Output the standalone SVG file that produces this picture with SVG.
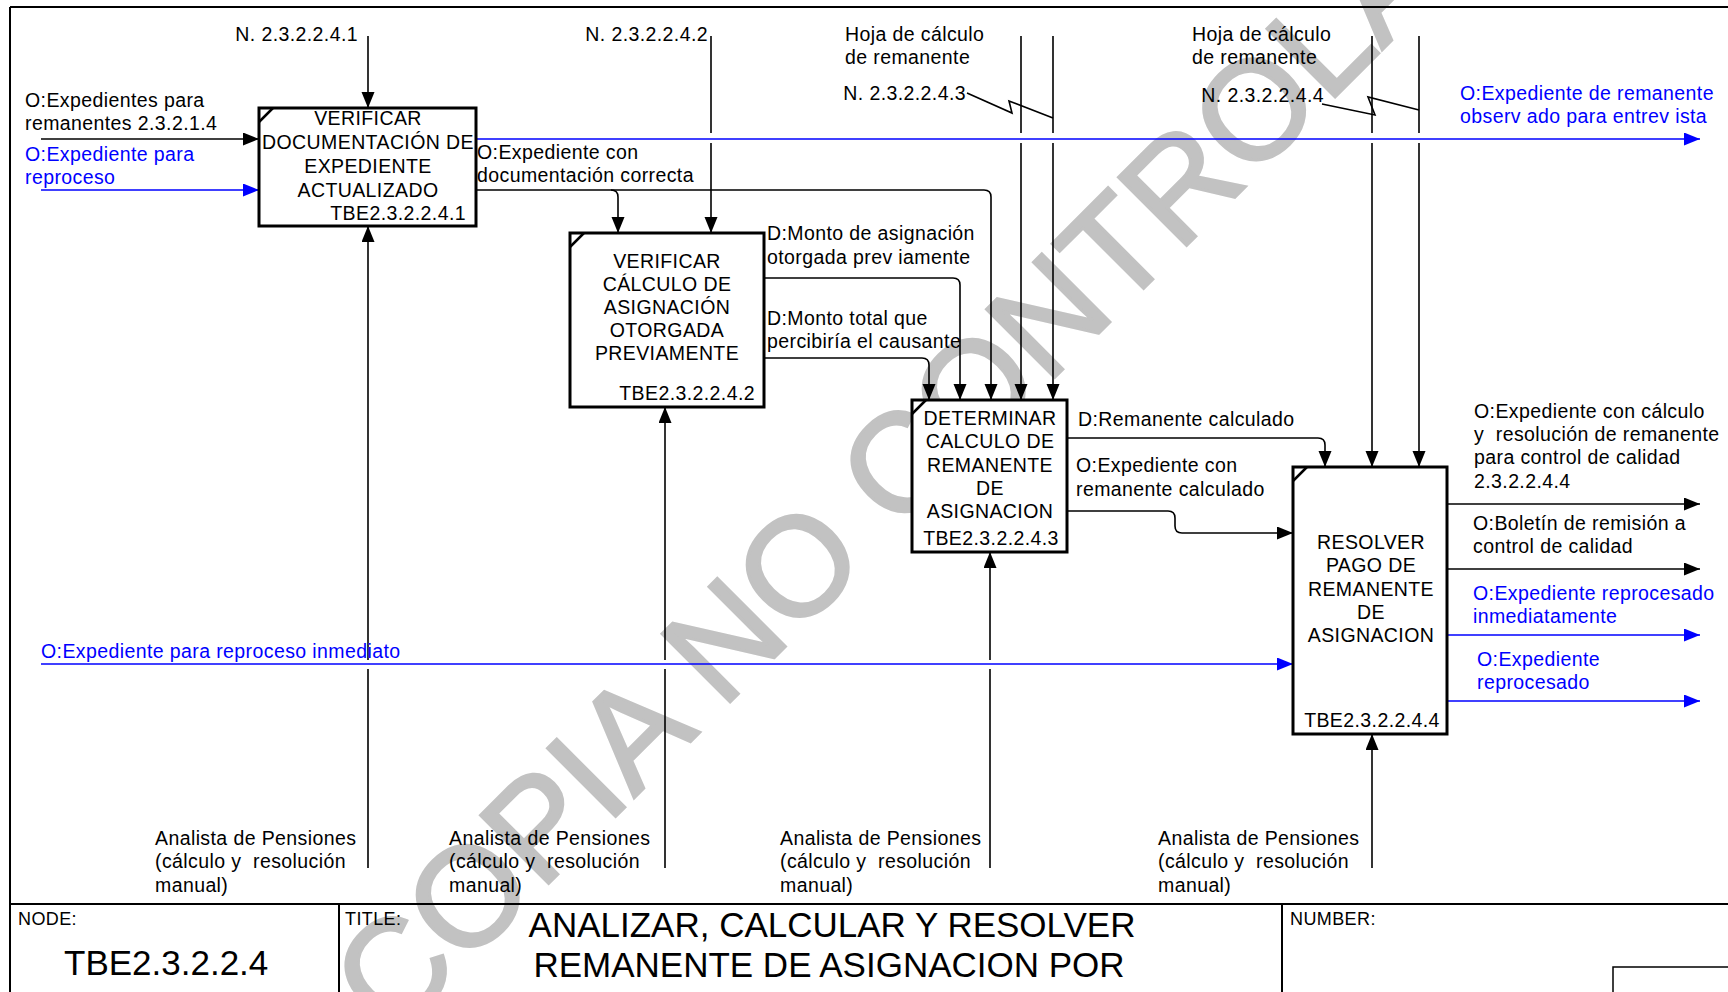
<svg xmlns="http://www.w3.org/2000/svg" width="1728" height="992" viewBox="0 0 1728 992">
<defs>
<marker id="ab" markerUnits="userSpaceOnUse" markerWidth="17" markerHeight="14" refX="16" refY="6.5" orient="auto"><path d="M0,0 L16,6.5 L0,13 z" fill="#000"/></marker>
<marker id="au" markerUnits="userSpaceOnUse" markerWidth="17" markerHeight="14" refX="16" refY="6.5" orient="auto"><path d="M0,0 L16,6.5 L0,13 z" fill="#0000ff"/></marker>
</defs>
<style>
text{font-family:"Liberation Sans",Arial,sans-serif;font-size:19.5px;letter-spacing:0.4px;fill:#000}
.b{fill:#0000ff}
.c{text-anchor:middle}
.e{text-anchor:end}
.p{white-space:pre}
.box{fill:#fff;stroke:#000;stroke-width:3}
.crn{fill:none;stroke:#000;stroke-width:2.5}
.ln{fill:none;stroke:#000;stroke-width:1.6}
.lb{fill:none;stroke:#0000ff;stroke-width:1.6}
.fr{fill:none;stroke:#000;stroke-width:2}
.wm{font-size:140px;fill:#c2c2c2;stroke:#c2c2c2;stroke-width:3;letter-spacing:0}
.big{font-size:35px;letter-spacing:0}
</style>
<rect width="1728" height="992" fill="#fff"/>
<text class="wm" transform="translate(392,1040) rotate(-45)">COPIA NO CONTROLADA</text>
<g id="frame">
<path class="fr" d="M10,7 H1728 M10,7 V992 M10,904 H1728 M339,904 V992 M1282,904 V992"/>
<rect x="1613" y="967" width="200" height="60" fill="none" stroke="#000" stroke-width="1.5"/>
<text x="18" y="925" style="font-size:18px">NODE:</text>
<text x="345" y="925" style="font-size:18px">TITLE:</text>
<text x="1290" y="925" style="font-size:18px">NUMBER:</text>
<text class="big" x="64" y="975">TBE2.3.2.2.4</text>
<text class="big c" x="832" y="937">ANALIZAR, CALCULAR Y RESOLVER</text>
<text class="big c" x="829" y="977">REMANENTE DE ASIGNACION POR</text>
<text class="big c" x="830" y="1017">SOBREVIVENCIA</text>
</g>
<g id="connectors">
<path class="ln" d="M368,36 V108" marker-end="url(#ab)"/>
<path class="ln" d="M41,139 H259" marker-end="url(#ab)"/>
<path class="lb" d="M41,190 H259" marker-end="url(#au)"/>
<path class="lb" d="M476,139 H1700" marker-end="url(#au)"/>
<path class="ln" d="M476,190 H984 Q991,190 991,197 V400" marker-end="url(#ab)"/>
<path class="ln" d="M611,190 Q618,190 618,197 V233" marker-end="url(#ab)"/>
<path class="ln" d="M711,36 V133"/>
<path class="ln" d="M711,143 V233" marker-end="url(#ab)"/>
<path class="ln" d="M764,278 H953 Q960,278 960,285 V400" marker-end="url(#ab)"/>
<path class="ln" d="M764,358 H922 Q929,358 929,365 V400" marker-end="url(#ab)"/>
<path class="ln" d="M1021,36 V133 M1053,36 V133"/>
<path class="ln" d="M1021,143 V400" marker-end="url(#ab)"/>
<path class="ln" d="M1053,143 V400" marker-end="url(#ab)"/>
<path class="ln" d="M967,93 L1012,113 L1009,101 L1053,118"/>
<path class="ln" d="M1372,36 V133 M1419,36 V133"/>
<path class="ln" d="M1372,143 V467" marker-end="url(#ab)"/>
<path class="ln" d="M1419,143 V467" marker-end="url(#ab)"/>
<path class="ln" d="M1322,104 L1375,115 L1368,97 L1419,110"/>
<path class="ln" d="M1067,438 H1318 Q1325,438 1325,445 V467" marker-end="url(#ab)"/>
<path class="ln" d="M1067,511 H1168 Q1175,511 1175,518 V526 Q1175,533 1182,533 H1293" marker-end="url(#ab)"/>
<path class="lb" d="M41,664 H1293" marker-end="url(#au)"/>
<path class="ln" d="M368,868 V669 M665,868 V669 M990,868 V669"/>
<path class="ln" d="M368,660 V226" marker-end="url(#ab)"/>
<path class="ln" d="M665,660 V407" marker-end="url(#ab)"/>
<path class="ln" d="M990,660 V552" marker-end="url(#ab)"/>
<path class="ln" d="M1372,868 V734" marker-end="url(#ab)"/>
<path class="ln" d="M1447,504 H1700" marker-end="url(#ab)"/>
<path class="ln" d="M1447,569 H1700" marker-end="url(#ab)"/>
<path class="lb" d="M1447,635 H1700" marker-end="url(#au)"/>
<path class="lb" d="M1447,701 H1700" marker-end="url(#au)"/>
</g>
<g id="labels">
<text class="e" x="358" y="41">N. 2.3.2.2.4.1</text>
<text class="e" x="708" y="41">N. 2.3.2.2.4.2</text>
<text x="845" y="41">Hoja de cálculo</text>
<text x="845" y="64">de remanente</text>
<text class="e" x="966" y="100">N. 2.3.2.2.4.3</text>
<text x="1192" y="41">Hoja de cálculo</text>
<text x="1192" y="64">de remanente</text>
<text class="e" x="1324" y="102">N. 2.3.2.2.4.4</text>
<text class="b" x="1460" y="100">O:Expediente de remanente</text>
<text class="b" x="1460" y="123">observ ado para entrev ista</text>
<text x="25" y="107">O:Expedientes para</text>
<text x="25" y="130">remanentes 2.3.2.1.4</text>
<text class="b" x="25" y="161">O:Expediente para</text>
<text class="b" x="25" y="184">reproceso</text>
<text x="477" y="159">O:Expediente con</text>
<text x="477" y="182">documentación correcta</text>
<text x="767" y="240">D:Monto de asignación</text>
<text x="767" y="264">otorgada prev iamente</text>
<text x="767" y="325">D:Monto total que</text>
<text x="767" y="348">percibiría el causante</text>
<text x="1078" y="426">D:Remanente calculado</text>
<text x="1076" y="472">O:Expediente con</text>
<text x="1076" y="496">remanente calculado</text>
<text x="1474" y="418">O:Expediente con cálculo</text>
<text class="p" x="1474" y="441">y  resolución de remanente</text>
<text x="1474" y="464">para control de calidad</text>
<text x="1474" y="488">2.3.2.2.4.4</text>
<text x="1473" y="530">O:Boletín de remisión a</text>
<text x="1473" y="553">control de calidad</text>
<text class="b" x="1473" y="600">O:Expediente reprocesado</text>
<text class="b" x="1473" y="623">inmediatamente</text>
<text class="b" x="1477" y="666">O:Expediente</text>
<text class="b" x="1477" y="689">reprocesado</text>
<text class="b" x="41" y="658">O:Expediente para reproceso inmediato</text>
<text x="155" y="845">Analista de Pensiones</text>
<text class="p" x="155" y="868">(cálculo y  resolución</text>
<text x="155" y="892">manual)</text>
<text x="449" y="845">Analista de Pensiones</text>
<text class="p" x="449" y="868">(cálculo y  resolución</text>
<text x="449" y="892">manual)</text>
<text x="780" y="845">Analista de Pensiones</text>
<text class="p" x="780" y="868">(cálculo y  resolución</text>
<text x="780" y="892">manual)</text>
<text x="1158" y="845">Analista de Pensiones</text>
<text class="p" x="1158" y="868">(cálculo y  resolución</text>
<text x="1158" y="892">manual)</text>
</g>
<g id="n1">
<rect class="box" x="259" y="108" width="217" height="118"/>
<path class="crn" d="M259,122 L273,108"/>
<text class="c" x="368" y="125">VERIFICAR</text>
<text class="c" x="368" y="149">DOCUMENTACIÓN DE</text>
<text class="c" x="368" y="173">EXPEDIENTE</text>
<text class="c" x="368" y="197">ACTUALIZADO</text>
<text class="e" x="466" y="220">TBE2.3.2.2.4.1</text>
</g>
<g id="n2">
<rect class="box" x="570" y="233" width="194" height="174"/>
<path class="crn" d="M570,247 L584,233"/>
<text class="c" x="667" y="268">VERIFICAR</text>
<text class="c" x="667" y="291">CÁLCULO DE</text>
<text class="c" x="667" y="314">ASIGNACIÓN</text>
<text class="c" x="667" y="337">OTORGADA</text>
<text class="c" x="667" y="360">PREVIAMENTE</text>
<text class="e" x="755" y="400">TBE2.3.2.2.4.2</text>
</g>
<g id="n3">
<rect class="box" x="912" y="400" width="155" height="152"/>
<path class="crn" d="M912,414 L926,400"/>
<text class="c" x="990" y="425">DETERMINAR</text>
<text class="c" x="990" y="448">CALCULO DE</text>
<text class="c" x="990" y="472">REMANENTE</text>
<text class="c" x="990" y="495">DE</text>
<text class="c" x="990" y="518">ASIGNACION</text>
<text class="c" x="991" y="545">TBE2.3.2.2.4.3</text>
</g>
<g id="n4">
<rect class="box" x="1293" y="467" width="154" height="267"/>
<path class="crn" d="M1293,481 L1307,467"/>
<text class="c" x="1371" y="549">RESOLVER</text>
<text class="c" x="1371" y="572">PAGO DE</text>
<text class="c" x="1371" y="596">REMANENTE</text>
<text class="c" x="1371" y="619">DE</text>
<text class="c" x="1371" y="642">ASIGNACION</text>
<text class="c" x="1372" y="727">TBE2.3.2.2.4.4</text>
</g>
</svg>
